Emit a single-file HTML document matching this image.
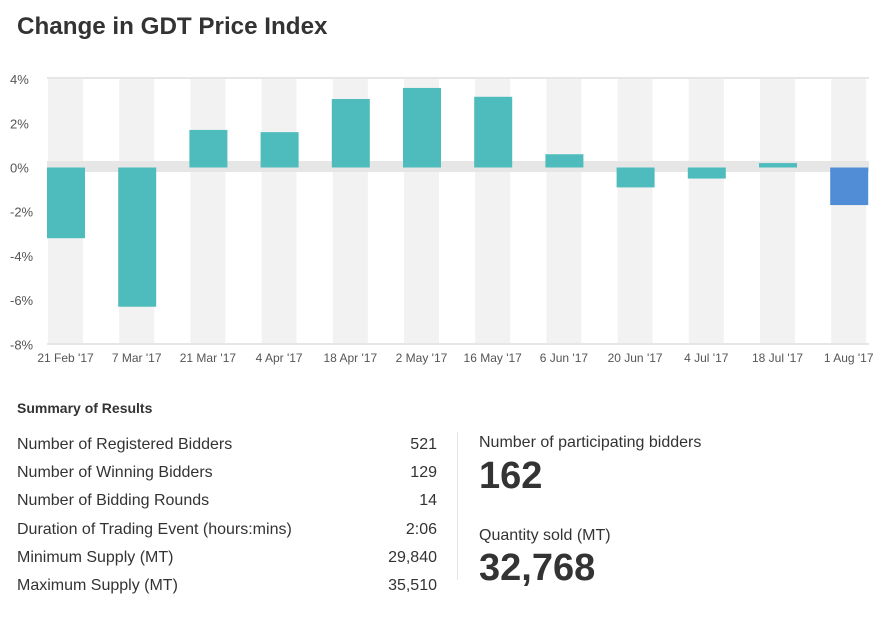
<!DOCTYPE html>
<html><head><meta charset="utf-8"><style>
body{margin:0;width:886px;height:619px;background:#fff;font-family:"Liberation Sans",sans-serif;color:#333;overflow:hidden;position:relative}
.t{position:absolute;white-space:nowrap}
</style></head><body>
<div class="t" style="left:17px;top:13px;font-size:24.2px;font-weight:bold;color:#333">Change in GDT Price Index</div>
<svg id="chart" width="886" height="380" style="position:absolute;left:0;top:0"></svg>
<div class="t" style="left:17px;top:400px;font-size:14px;font-weight:bold">Summary of Results</div>
<div style="position:absolute;left:17px;top:431px;width:420px;font-size:16px;line-height:28.2px">
<div style="display:flex;justify-content:space-between"><span>Number of Registered Bidders</span><span>521</span></div>
<div style="display:flex;justify-content:space-between"><span>Number of Winning Bidders</span><span>129</span></div>
<div style="display:flex;justify-content:space-between"><span>Number of Bidding Rounds</span><span>14</span></div>
<div style="display:flex;justify-content:space-between"><span>Duration of Trading Event (hours:mins)</span><span>2:06</span></div>
<div style="display:flex;justify-content:space-between"><span>Minimum Supply (MT)</span><span>29,840</span></div>
<div style="display:flex;justify-content:space-between"><span>Maximum Supply (MT)</span><span>35,510</span></div>
</div>
<div style="position:absolute;left:457px;top:432px;width:1px;height:148px;background:#e6e6e6"></div>
<div class="t" style="left:479px;top:434px;font-size:16px">Number of participating bidders</div>
<div class="t" style="left:479px;top:455px;font-size:38px;font-weight:bold">162</div>
<div class="t" style="left:479px;top:527px;font-size:16px">Quantity sold (MT)</div>
<div class="t" style="left:479px;top:547px;font-size:38px;font-weight:bold">32,768</div>
<script>
const categories=["21 Feb '17","7 Mar '17","21 Mar '17","4 Apr '17","18 Apr '17","2 May '17","16 May '17","6 Jun '17","20 Jun '17","4 Jul '17","18 Jul '17","1 Aug '17"];
const values=[-3.2,-6.3,1.7,1.6,3.1,3.6,3.2,0.6,-0.9,-0.5,0.2,-1.7];
const yTicks=[4,2,0,-2,-4,-6,-8];
const NS="http://www.w3.org/2000/svg";
const svg=document.getElementById('chart');
const y=v=>167.5-v*22.1;
const x=i=>48+i*71.2;
function mk(t,a){const e=document.createElementNS(NS,t);for(const k in a)e.setAttribute(k,a[k]);svg.appendChild(e);return e;}
categories.forEach((c,i)=>{const r=mk('rect',{x:x(i),y:y(4),width:35,height:y(-8)-y(4),fill:'#f2f2f2'});

});
let l=mk('rect',{x:47,y:77,width:822,height:2,fill:'#e6e6e6'});


l=mk('rect',{x:47,y:161,width:822,height:11,fill:'#e6e6e6'});


l=mk('rect',{x:47,y:343,width:822,height:2,fill:'#e6e6e6'});


yTicks.forEach(v=>{const t=mk('text',{x:10,y:y(v)+5,'font-size':13,fill:'#555','font-family':'Liberation Sans, sans-serif'});t.textContent=v+'%';

});
values.forEach((v,i)=>{const y0=Math.min(y(0),y(v)),h=Math.abs(y(v)-y(0));
const b=mk('rect',{x:x(i)-1,y:y0,width:38,height:h,fill:i==values.length-1?'#518dd6':'#4ebcbc'});

});
categories.forEach((c,i)=>{const t=mk('text',{x:x(i)+17.5,y:362,'font-size':12,fill:'#555','text-anchor':'middle','font-family':'Liberation Sans, sans-serif'});t.textContent=c;

});
</script>
</body></html>
